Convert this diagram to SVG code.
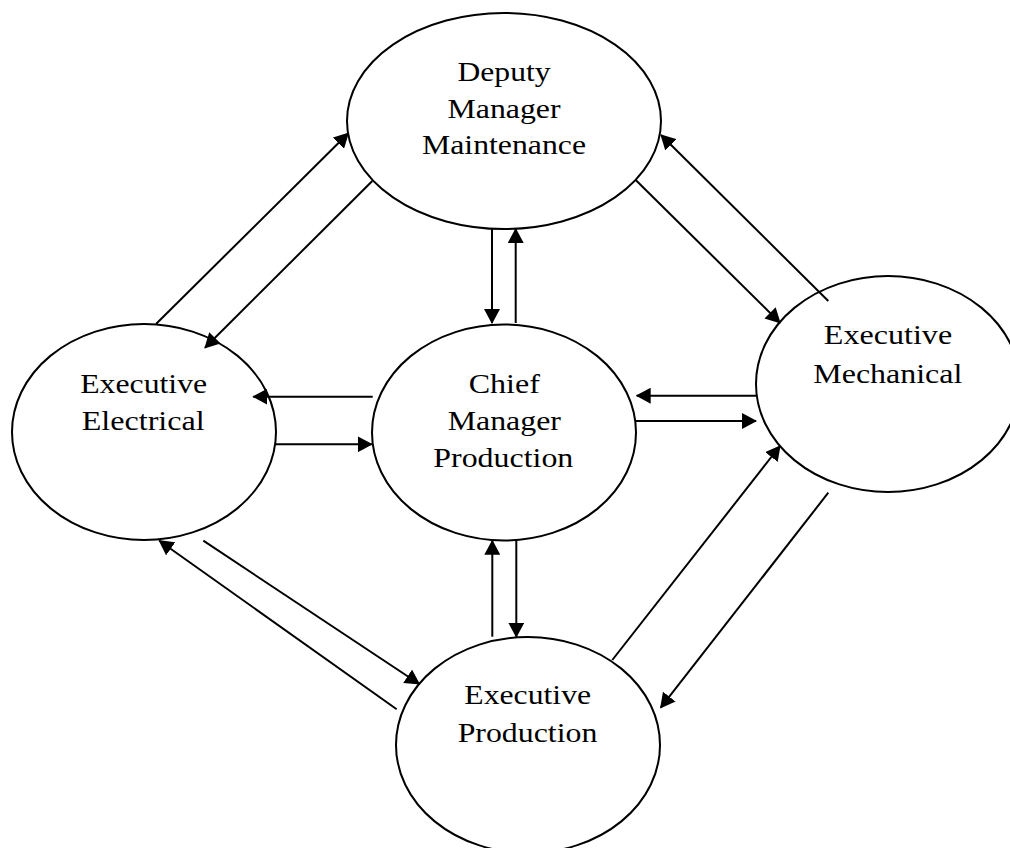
<svg xmlns="http://www.w3.org/2000/svg" width="1010" height="848" viewBox="0 0 1010 848">
<style>
.node ellipse{fill:#fff;stroke:#000;stroke-width:2}
.node text{font-family:"Liberation Serif","Times New Roman",serif;font-size:27px;fill:#000;text-anchor:middle}
#connectors line{stroke:#000;stroke-width:2;marker-end:url(#arr)}
</style>
<defs>
<marker id="arr" viewBox="0 0 15 16" refX="14" refY="8" markerWidth="15" markerHeight="16" orient="auto" markerUnits="userSpaceOnUse">
<path d="M0,0 L15,8 L0,16 Z" fill="#000"/>
</marker>
</defs>
<rect width="1010" height="848" fill="#fff"/>
<g id="deputy" class="node">
<ellipse cx="504" cy="121" rx="157" ry="108"/>
<text x="504" y="81" textLength="93" lengthAdjust="spacingAndGlyphs">Deputy</text>
<text x="504" y="117.7" textLength="113" lengthAdjust="spacingAndGlyphs">Manager</text>
<text x="504" y="154.3" textLength="164" lengthAdjust="spacingAndGlyphs">Maintenance</text>
</g>
<g id="electrical" class="node">
<ellipse cx="144" cy="432" rx="132" ry="108"/>
<text x="143.7" y="392.7" textLength="127" lengthAdjust="spacingAndGlyphs">Executive</text>
<text x="143.2" y="430" textLength="123" lengthAdjust="spacingAndGlyphs">Electrical</text>
</g>
<g id="chief" class="node">
<ellipse cx="504" cy="432.5" rx="132" ry="108"/>
<text x="504.3" y="392.7" textLength="71.3" lengthAdjust="spacingAndGlyphs">Chief</text>
<text x="504.3" y="430" textLength="113.3" lengthAdjust="spacingAndGlyphs">Manager</text>
<text x="503.3" y="467.3" textLength="140" lengthAdjust="spacingAndGlyphs">Production</text>
</g>
<g id="mechanical" class="node">
<ellipse cx="888" cy="384" rx="132" ry="108"/>
<text x="888" y="344.3" textLength="128.3" lengthAdjust="spacingAndGlyphs">Executive</text>
<text x="887.8" y="382.7" textLength="149" lengthAdjust="spacingAndGlyphs">Mechanical</text>
</g>
<g id="production" class="node">
<ellipse cx="528" cy="745" rx="132" ry="108"/>
<text x="527.7" y="704.3" textLength="126.7" lengthAdjust="spacingAndGlyphs">Executive</text>
<text x="527.5" y="742.3" textLength="139.7" lengthAdjust="spacingAndGlyphs">Production</text>
</g>
<g id="connectors">
<line x1="492" y1="229" x2="492" y2="323"/>
<line x1="515.7" y1="323" x2="515.7" y2="229"/>
<line x1="372.7" y1="396.7" x2="253.3" y2="396.7"/>
<line x1="276" y1="444.3" x2="371.7" y2="444.3"/>
<line x1="756" y1="395.7" x2="636.7" y2="395.7"/>
<line x1="636" y1="421" x2="756" y2="421"/>
<line x1="492.3" y1="636.7" x2="492.3" y2="540.7"/>
<line x1="516.3" y1="540" x2="516.3" y2="636.7"/>
<line x1="156" y1="324" x2="348.3" y2="133.3"/>
<line x1="372.3" y1="181" x2="205" y2="347.7"/>
<line x1="828.3" y1="301" x2="661" y2="135"/>
<line x1="635.7" y1="180" x2="780" y2="322.7"/>
<line x1="396.7" y1="709.3" x2="159.3" y2="540.7"/>
<line x1="203.3" y1="540.7" x2="419.3" y2="684"/>
<line x1="612.3" y1="660" x2="780" y2="446"/>
<line x1="828.3" y1="492.7" x2="660.7" y2="707.7"/>
</g>
</svg>
